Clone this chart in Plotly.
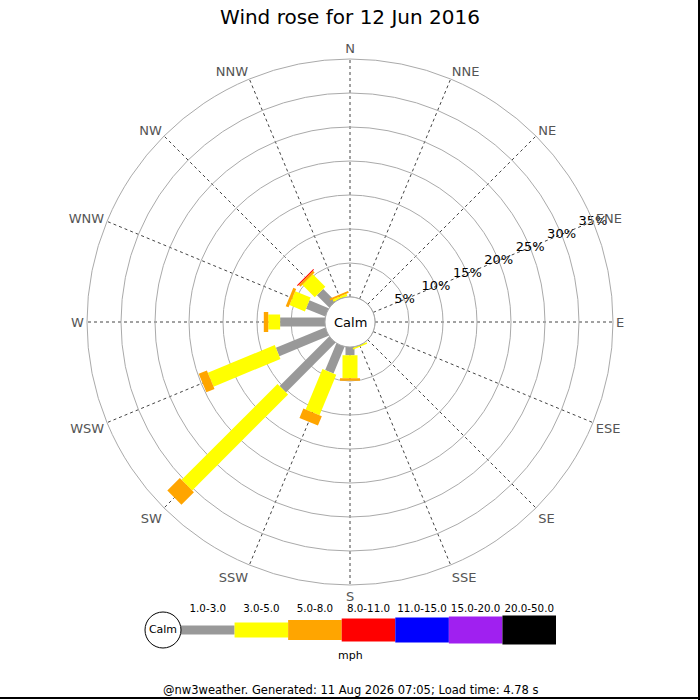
import plotly.graph_objects as go

# ---- data -------------------------------------------------------------
directions = ["N", "NNE", "NE", "ENE", "E", "ESE", "SE", "SSE",
              "S", "SSW", "SW", "WSW", "W", "WNW", "NW", "NNW"]
dir_degrees = [0, 22.5, 45, 67.5, 90, 112.5, 135, 157.5,
               180, 202.5, 225, 247.5, 270, 292.5, 315, 337.5]

band_labels = ["1.0-3.0", "3.0-5.0", "5.0-8.0", "8.0-11.0",
               "11.0-15.0", "15.0-20.0", "20.0-50.0"]
band_colors = ["#999999", "#ffff00", "#ffa500", "#ff0000",
               "#0000ff", "#a020f0", "#000000"]

# percent frequency per direction (N .. NNW) for each speed band
band_1_3 = [0, 0, 0, 0, 0, 0, 0, 0, 1.2, 4.25, 10.3, 7.85, 6.6, 3.05, 2.55, 0]
band_3_5 = [0, 0, 0, 0, 0, 0, 0, 0.25, 3.4, 6.45, 19.95, 10.65, 1.75, 2.45, 2.6, 0.35]
band_5_8 = [0, 0, 0, 0, 0, 0, 0, 0, 0.35, 1.5, 2.6, 1.3, 0.65, 0.45, 0.35, 0.3]
band_8_11 = [0, 0, 0, 0, 0, 0, 0, 0, 0, 0, 0, 0, 0, 0, 0.15, 0]
band_11_15 = [0] * 16
band_15_20 = [0] * 16
band_20_50 = [0] * 16
bands = [band_1_3, band_3_5, band_5_8, band_8_11, band_11_15, band_15_20, band_20_50]

radial_ticks = [5, 10, 15, 20, 25, 30, 35]
radial_tick_text = ["5%", "10%", "15%", "20%", "25%", "30%", "35%"]

title_text = "Wind rose for 12 Jun 2016"
footer_text = "@nw3weather. Generated: 11 Aug 2026 07:05; Load time: 4.78 s"
units_text = "mph"
calm_text = "Calm"

# ---- styling ----------------------------------------------------------
band_widths = [9, 15, 20, 23, 25, 27, 29]
FONT = "DejaVu Sans"

fig = go.Figure()

# stacked rose segments, one trace per speed band
cum = [0.0] * 16
for vals, col, w, lab in zip(bands, band_colors, band_widths, band_labels):
    rr, tt = [], []
    for i in range(16):
        if vals[i] > 0:
            rr += [cum[i], cum[i] + vals[i], None]
            tt += [dir_degrees[i], dir_degrees[i], None]
        cum[i] += vals[i]
    if rr:
        fig.add_trace(go.Scatterpolar(
            r=rr, theta=tt, mode="lines", connectgaps=False,
            line=dict(color=col, width=w), hoverinfo="skip",
            showlegend=False, name=lab))

# calm circle border (at r = 0, i.e. the hole edge)
circle_theta = list(range(0, 361, 3))
fig.add_trace(go.Scatterpolar(
    r=[0] * len(circle_theta), theta=circle_theta, mode="lines",
    line=dict(color="#999999", width=1), hoverinfo="skip", showlegend=False))

# radial tick labels along ENE
fig.add_trace(go.Scatterpolar(
    r=radial_ticks, theta=[67.5] * len(radial_ticks), mode="text",
    text=radial_tick_text, textposition="middle center",
    textfont=dict(family=FONT, size=13, color="black"),
    hoverinfo="skip", showlegend=False))

# ---- legend (cartesian strip) -------------------------------------------
for i, (col, w) in enumerate(zip(band_colors, band_widths)):
    fig.add_trace(go.Scatter(
        x=[i, i + 1], y=[0, 0], mode="lines", line=dict(color=col, width=w),
        xaxis="x2", yaxis="y2", hoverinfo="skip", showlegend=False))
fig.add_trace(go.Scatter(
    x=[i + 0.5 for i in range(len(band_labels))], y=[0.70] * len(band_labels),
    mode="text", text=band_labels, textfont=dict(family=FONT, size=10.3, color="black"),
    xaxis="x2", yaxis="y2", hoverinfo="skip", showlegend=False, cliponaxis=False))
fig.add_trace(go.Scatter(
    x=[-0.336], y=[0], mode="markers+text", text=[calm_text],
    textposition="middle center",
    textfont=dict(family=FONT, size=11, color="black"),
    marker=dict(size=36, color="white", line=dict(color="black", width=1)),
    xaxis="x2", yaxis="y2", hoverinfo="skip", showlegend=False, cliponaxis=False))

fig.update_layout(
    width=700, height=700,
    margin=dict(l=0, r=0, t=0, b=0),
    paper_bgcolor="white", plot_bgcolor="white",
    font=dict(family=FONT, color="black"),
    title=dict(text=title_text, x=0.5, xanchor="center", y=1 - 17 / 700,
               yanchor="middle", font=dict(family=FONT, size=20, color="black")),
    polar=dict(
        domain=dict(x=[87 / 700, 613 / 700], y=[1 - 585 / 700, 1 - 59 / 700]),
        bgcolor="white",
        hole=25 / 263,
        radialaxis=dict(range=[0, 35], tickvals=radial_ticks, showticklabels=False,
                        ticks="", showline=False, gridcolor="#aaaaaa", gridwidth=1,
                        angle=22.5),
        angularaxis=dict(rotation=90, direction="clockwise",
                         tickmode="array", tickvals=dir_degrees, ticktext=directions,
                         ticks="", showline=True, linecolor="#aaaaaa", linewidth=1,
                         gridcolor="#444444", griddash="dot", gridwidth=1,
                         tickfont=dict(family=FONT, size=13, color="#555555")),
    ),
    xaxis2=dict(domain=[145 / 700, 556 / 700], range=[-0.672, 7], visible=False,
                fixedrange=True),
    yaxis2=dict(domain=[1 - 660 / 700, 1 - 600 / 700], range=[-1, 1], visible=False,
                fixedrange=True),
    annotations=[
        dict(text=calm_text, x=0.5, y=1 - 322 / 700, xref="paper", yref="paper",
             yanchor="middle", showarrow=False,
             font=dict(family=FONT, size=13, color="black")),
        dict(text=units_text, x=0.5, y=1 - 655 / 700, xref="paper", yref="paper",
             yanchor="middle", showarrow=False,
             font=dict(family=FONT, size=11, color="black")),
        dict(text=footer_text, x=0.5, y=1 - 690 / 700, xref="paper", yref="paper",
             yanchor="middle", showarrow=False,
             font=dict(family=FONT, size=11.5, color="black")),
    ],
    shapes=[
        dict(type="line", xref="paper", yref="paper", x0=699 / 700, x1=699 / 700,
             y0=0, y1=1, line=dict(color="black", width=2)),
        dict(type="line", xref="paper", yref="paper", x0=0, x1=1,
             y0=2 / 700, y1=2 / 700, line=dict(color="black", width=2)),
    ],
)

fig.write_html("out.html", config={"displayModeBar": False},
               post_script="document.body.style.margin='0';document.body.style.padding='0';")
